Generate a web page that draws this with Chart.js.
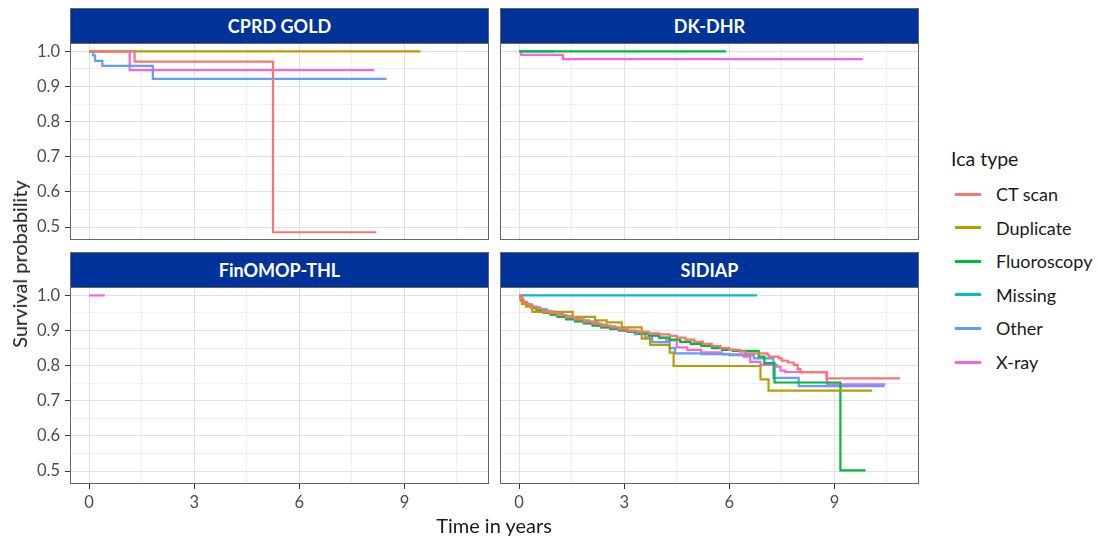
<!DOCTYPE html>
<html>
<head>
<meta charset="utf-8">
<script src="https://cdn.jsdelivr.net/npm/chart.js@4.4.1/dist/chart.umd.min.js"></script>
<style>
  body { margin:0; background:#fff; width:1099px; height:539px; position:relative; overflow:hidden; font-family: Lato, "Open Sans", sans-serif; }
  canvas { position:absolute; }
  .strip { position:absolute; background:#003399; color:#fff; font-weight:bold; font-size:18px; display:flex; align-items:center; justify-content:center; box-sizing:border-box; border:1px solid #666; z-index:5; }
  .axtitle { position:absolute; color:#1a1a1a; font-size:20px; white-space:nowrap; z-index:5; }
  .legtitle { position:absolute; color:#1a1a1a; font-size:19.5px; z-index:5; }
  .legitem { position:absolute; color:#1a1a1a; font-size:18px; z-index:5; white-space:nowrap; }
  .legkey { position:absolute; height:3px; width:26px; z-index:5; }
</style>
</head>
<body>
<script>
// ---------------- data ----------------
const seriesNames = ['CT scan', 'Duplicate', 'Fluoroscopy', 'Missing', 'Other', 'X-ray'];
const panelNames = ['CPRD GOLD', 'DK-DHR', 'FinOMOP-THL', 'SIDIAP'];
const xTickLabels = [0, 3, 6, 9];
const yTickLabels = [0.5, 0.6, 0.7, 0.8, 0.9, 1.0];
const legendTitle = 'Ica type';
const xTitle = 'Time in years';
const yTitle = 'Survival probability';

// CPRD GOLD
const cprdCtTime   = [0, 1.30, 5.25, 8.20];
const cprdCtSurv   = [1.0, 0.971, 0.485, 0.485];
const cprdDupTime  = [0, 9.46];
const cprdDupSurv  = [1.0, 1.0];
const cprdOthTime  = [0, 0.11, 0.17, 0.38, 1.82, 8.49];
const cprdOthSurv  = [1.0, 0.989, 0.973, 0.959, 0.922, 0.922];
const cprdXrayTime = [0, 1.16, 8.14];
const cprdXraySurv = [1.0, 0.947, 0.947];

// DK-DHR
const dkFluTime  = [0, 5.91];
const dkFluSurv  = [1.0, 1.0];
const dkOthTime  = [0, 1.0];
const dkOthSurv  = [1.0, 1.0];
const dkXrayTime = [0, 0.06, 1.25, 9.81];
const dkXraySurv = [1.0, 0.990, 0.978, 0.978];

// FinOMOP-THL
const finXrayTime = [0, 0.45];
const finXraySurv = [1.0, 1.0];

// SIDIAP
const sidCtTime = [0, 0.05, 0.12, 0.22, 0.35, 0.5, 0.7, 0.9, 1.1, 1.35, 1.6, 1.85, 2.1, 2.35, 2.6, 2.85, 3.1, 3.4, 3.7, 4.0, 4.3, 4.5, 4.75, 5.0, 5.25, 5.5, 5.75, 6.0, 6.3, 6.46, 7.08, 7.12, 7.41, 7.5, 7.67, 7.84, 7.95, 8.03, 8.77, 10.87];
const sidCtSurv = [1.0, 0.99, 0.982, 0.975, 0.968, 0.962, 0.956, 0.95, 0.944, 0.938, 0.932, 0.926, 0.92, 0.914, 0.909, 0.904, 0.899, 0.896, 0.892, 0.889, 0.885, 0.88, 0.874, 0.868, 0.862, 0.856, 0.85, 0.845, 0.84, 0.835, 0.832, 0.826, 0.821, 0.814, 0.809, 0.802, 0.79, 0.781, 0.764, 0.764];
const sidDupTime = [0, 0.08, 0.2, 0.38, 1.53, 2.17, 2.5, 2.93, 3.5, 3.74, 4.3, 4.41, 6.89, 7.12, 10.08];
const sidDupSurv = [1.0, 0.976, 0.968, 0.953, 0.939, 0.929, 0.923, 0.909, 0.877, 0.859, 0.837, 0.799, 0.761, 0.729, 0.729];
const sidFluTime = [0, 0.05, 0.12, 0.22, 0.35, 0.5, 0.7, 0.9, 1.1, 1.35, 1.6, 1.85, 2.1, 2.35, 2.6, 2.85, 3.1, 3.4, 3.7, 4.0, 4.3, 4.6, 4.9, 5.2, 5.5, 5.8, 6.1, 6.84, 7.0, 7.29, 9.17, 9.89];
const sidFluSurv = [1.0, 0.988, 0.98, 0.972, 0.965, 0.958, 0.951, 0.945, 0.939, 0.932, 0.926, 0.92, 0.914, 0.909, 0.905, 0.901, 0.897, 0.892, 0.886, 0.88, 0.874, 0.868, 0.862, 0.856, 0.85, 0.845, 0.842, 0.826, 0.807, 0.752, 0.502, 0.502];
const sidMisTime = [0, 6.79];
const sidMisSurv = [1.0, 1.0];
const sidOthTime = [0, 0.05, 0.12, 0.25, 0.4, 0.6, 0.8, 1.0, 1.25, 1.5, 1.75, 2.0, 2.25, 2.5, 2.75, 3.0, 3.3, 3.6, 3.8, 4.3, 4.45, 5.2, 6.0, 6.7, 7.26, 7.98, 10.43];
const sidOthSurv = [1.0, 0.986, 0.978, 0.971, 0.966, 0.96, 0.954, 0.948, 0.941, 0.935, 0.929, 0.923, 0.917, 0.912, 0.907, 0.9, 0.89, 0.88, 0.867, 0.85, 0.835, 0.833, 0.83, 0.821, 0.765, 0.742, 0.742];
const sidXrayTime = [0, 0.04, 0.1, 0.2, 0.35, 0.5, 0.7, 0.9, 1.1, 1.35, 1.6, 1.85, 2.1, 2.35, 2.6, 2.85, 3.1, 3.4, 3.7, 4.0, 4.2, 4.5, 4.8, 5.2, 5.8, 6.41, 6.6, 6.89, 7.36, 7.46, 7.6, 8.79, 10.46];
const sidXraySurv = [1.0, 0.99, 0.98, 0.972, 0.965, 0.959, 0.952, 0.946, 0.94, 0.933, 0.927, 0.921, 0.915, 0.909, 0.904, 0.9, 0.896, 0.891, 0.885, 0.879, 0.872, 0.852, 0.845, 0.838, 0.832, 0.826, 0.811, 0.802, 0.797, 0.786, 0.782, 0.747, 0.747];

// ---------------- styles / layout ----------------
const seriesColors = ['#F8766D', '#B79F00', '#00BA38', '#00BFC4', '#619CFF', '#F564E3'];
const X_MIN = -0.544, X_MAX = 11.414;
const Y_MIN = 0.463, Y_MAX = 1.024;

const panels = [
  { name: panelNames[0], l: 70,  t: 43,  w: 419, h: 197, showY: true,  showX: false,
    series: [[0, cprdCtTime, cprdCtSurv], [1, cprdDupTime, cprdDupSurv], [4, cprdOthTime, cprdOthSurv], [5, cprdXrayTime, cprdXraySurv]] },
  { name: panelNames[1], l: 500, t: 43,  w: 419, h: 197, showY: false, showX: false,
    series: [[2, dkFluTime, dkFluSurv], [4, dkOthTime, dkOthSurv], [5, dkXrayTime, dkXraySurv]] },
  { name: panelNames[2], l: 70,  t: 287, w: 419, h: 197, showY: true,  showX: true,
    series: [[5, finXrayTime, finXraySurv]] },
  { name: panelNames[3], l: 500, t: 287, w: 419, h: 197, showY: false, showX: true,
    series: [[0, sidCtTime, sidCtSurv], [1, sidDupTime, sidDupSurv], [2, sidFluTime, sidFluSurv], [3, sidMisTime, sidMisSurv], [4, sidOthTime, sidOthSurv], [5, sidXrayTime, sidXraySurv]] }
];

// major + minor grid positions derived from the tick labels
const xGrid = [];
for (let i = 0; i < xTickLabels.length; i++) {
  xGrid.push(xTickLabels[i]);
  const step = (xTickLabels[1] - xTickLabels[0]);
  const mid = xTickLabels[i] + step / 2;
  if (mid < X_MAX) xGrid.push(mid);
}
const yGrid = [];
for (let i = 0; i < yTickLabels.length; i++) {
  yGrid.push(yTickLabels[i]);
  const mid = yTickLabels[i] - 0.05;
  if (mid > Y_MIN) yGrid.push(+mid.toFixed(2));
}
const isMajor = (v, list) => list.some(m => Math.abs(m - v) < 1e-6);

const borderPlugin = {
  id: 'panelBorder',
  afterDatasetsDraw(chart) {
    const a = chart.chartArea, ctx = chart.ctx;
    ctx.save();
    ctx.strokeStyle = '#666';
    ctx.lineWidth = 1;
    ctx.strokeRect(Math.round(a.left) + 0.5, Math.round(a.top) + 0.5, Math.round(a.right - a.left) - 1, Math.round(a.bottom - a.top) - 1);
    ctx.restore();
  }
};

const PAD = 20, YW = 60, XH = 40;
const tickFont = { family: 'Lato', size: 16.5 };

panels.forEach(p => {
  const cv = document.createElement('canvas');
  const cw = PAD + YW + p.w + PAD, ch = PAD + p.h + XH + PAD;
  cv.width = cw; cv.height = ch;
  cv.style.left = (p.l - YW - PAD) + 'px';
  cv.style.top = (p.t - PAD) + 'px';
  cv.style.width = cw + 'px'; cv.style.height = ch + 'px';
  document.body.appendChild(cv);

  const datasets = p.series.map(([si, tt, ss]) => ({
    label: seriesNames[si],
    data: tt.map((t, i) => ({ x: t, y: ss[i] })),
    borderColor: seriesColors[si],
    backgroundColor: seriesColors[si],
    borderWidth: 2.2,
    pointRadius: 0,
    stepped: 'before',
    fill: false,
    tension: 0
  }));

  new Chart(cv, {
    type: 'line',
    data: { datasets },
    options: {
      animation: false, responsive: false, events: [],
      layout: { padding: { left: PAD, right: PAD, top: PAD, bottom: PAD } },
      plugins: { legend: { display: false }, tooltip: { enabled: false }, title: { display: false } },
      scales: {
        x: {
          type: 'linear', min: X_MIN, max: X_MAX,
          afterBuildTicks: s => { s.ticks = xGrid.map(v => ({ value: v })); },
          afterFit: s => { s.height = XH; },
          border: { display: false },
          grid: {
            drawTicks: p.showX, tickLength: 5,
            color: c => isMajor(c.tick.value, xTickLabels) ? '#e1e1e1' : '#efefef',
            tickColor: c => isMajor(c.tick.value, xTickLabels) ? '#333' : 'rgba(0,0,0,0)',
            lineWidth: 1
          },
          ticks: {
            display: p.showX, autoSkip: false, maxRotation: 0, padding: 4,
            color: '#4d4d4d', font: tickFont,
            callback: v => isMajor(v, xTickLabels) ? String(v) : ''
          }
        },
        y: {
          type: 'linear', min: Y_MIN, max: Y_MAX,
          afterBuildTicks: s => { s.ticks = yGrid.map(v => ({ value: v })); },
          afterFit: s => { s.width = YW; },
          border: { display: false },
          grid: {
            drawTicks: p.showY, tickLength: 5,
            color: c => isMajor(c.tick.value, yTickLabels) ? '#e1e1e1' : '#efefef',
            tickColor: c => isMajor(c.tick.value, yTickLabels) ? '#333' : 'rgba(0,0,0,0)',
            lineWidth: 1
          },
          ticks: {
            display: p.showY, autoSkip: false, padding: 5,
            color: '#4d4d4d', font: tickFont,
            callback: v => isMajor(v, yTickLabels) ? Number(v).toFixed(1) : ''
          }
        }
      }
    },
    plugins: [borderPlugin]
  });

  const st = document.createElement('div');
  st.className = 'strip';
  st.textContent = p.name;
  st.style.left = p.l + 'px';
  st.style.top = (p.t - 35) + 'px';
  st.style.width = p.w + 'px';
  st.style.height = '36px';
  document.body.appendChild(st);
});

// axis titles
const xt = document.createElement('div');
xt.className = 'axtitle'; xt.textContent = xTitle;
xt.style.left = '494px'; xt.style.top = '525px'; xt.style.transform = 'translate(-50%,-50%)';
document.body.appendChild(xt);
const yt = document.createElement('div');
yt.className = 'axtitle'; yt.textContent = yTitle;
yt.style.left = '19px'; yt.style.top = '264px'; yt.style.transform = 'translate(-50%,-50%) rotate(-90deg)';
document.body.appendChild(yt);

// legend
const lt = document.createElement('div');
lt.className = 'legtitle'; lt.textContent = legendTitle;
lt.style.left = '951px'; lt.style.top = '158px'; lt.style.transform = 'translateY(-50%)';
document.body.appendChild(lt);
seriesNames.forEach((n, i) => {
  const cy = 194 + i * 33.6;
  const k = document.createElement('div');
  k.className = 'legkey'; k.style.background = seriesColors[i];
  k.style.left = '955px'; k.style.top = (cy - 1.5) + 'px';
  document.body.appendChild(k);
  const tx = document.createElement('div');
  tx.className = 'legitem'; tx.textContent = n;
  tx.style.left = '996px'; tx.style.top = cy + 'px'; tx.style.transform = 'translateY(-50%)';
  document.body.appendChild(tx);
});
</script>
</body>
</html>
